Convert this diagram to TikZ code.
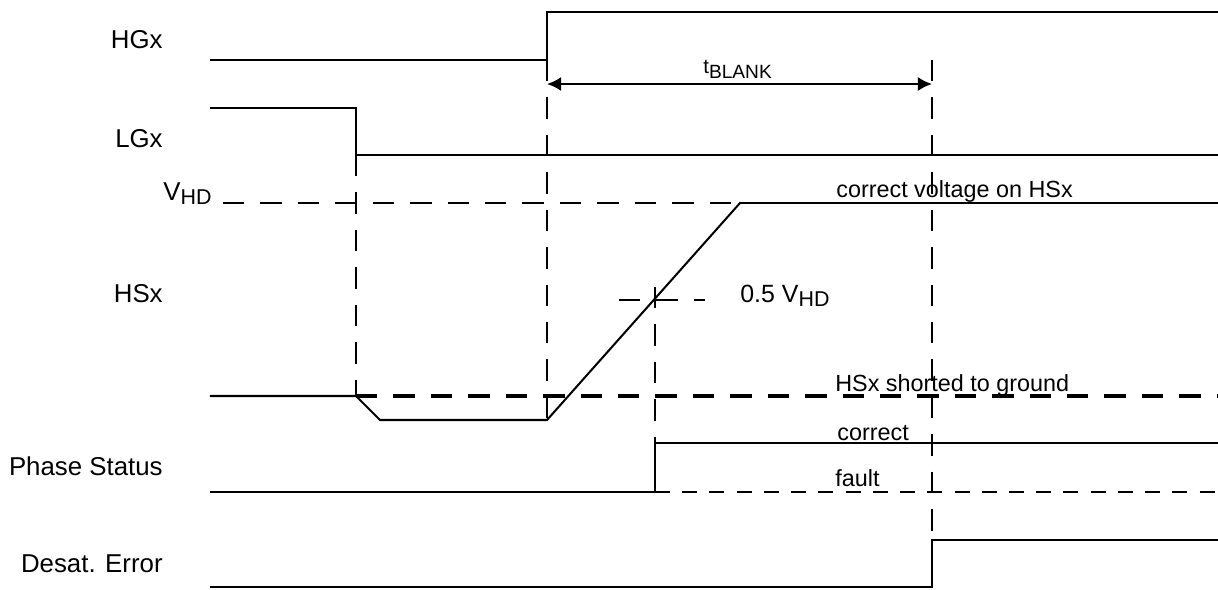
\documentclass[tikz,border=0pt]{standalone}
\usepackage{fontspec}
\setmainfont{Liberation Sans}
\usetikzlibrary{arrows.meta}
\newcommand\bigfont{\fontsize{14.7}{17}\selectfont}
\newcommand\notefont{\fontsize{13.3}{16}\selectfont}
\newcommand\halffont{\fontsize{14.2}{16}\selectfont}
\newcommand\subfont{\fontsize{12.2}{14}\selectfont}
\newcommand\lowered[2]{\raisebox{-#1}{#2}}
\begin{document}
\begin{tikzpicture}[x=0.02cm,y=-0.02cm,
  sig/.style={line width=1.15pt, line join=miter, line cap=rect},
  sighigh/.style={line width=1.5pt},
  guide/.style={line width=1.15pt, dash pattern=on 12.2pt off 9.1pt},
  guidethick/.style={line width=2.1pt, dash pattern=on 12.2pt off 9.1pt},
  faultline/.style={line width=1.15pt, dash pattern=on 8.5pt off 7pt},
  dimarrow/.style={line width=1.2pt, {Latex[length=8pt,width=8pt]}-{Latex[length=8pt,width=8pt]}},
  lbl/.style={font=\bigfont, anchor=base east, inner sep=0pt},
  note/.style={font=\notefont, anchor=base west, inner sep=0pt}]
\useasboundingbox (0,0) rectangle (1218,589);

% signal labels
\node[lbl] (hglbl) at (163,48) {HGx};
\node[lbl] (lglbl) at (163,147) {LGx};
\node[lbl] (vhdlbl) at (212,200) {V\lowered{2.8pt}{\subfont HD}};
\node[lbl] (hslbl) at (163,302) {HSx};
\node[lbl] (pslbl) at (163,475) {Phase Status};
\node[lbl] (delbl) at (163,572) {Desat. Error};

% key points
\coordinate (hgA) at (211,60);
\coordinate (hgB) at (547,60);
\coordinate (hgC) at (547,12);
\coordinate (hgD) at (1218,12);
\coordinate (lgA) at (211,108);
\coordinate (lgB) at (356,108);
\coordinate (lgC) at (356,155);
\coordinate (lgD) at (1218,155);
\coordinate (hsA) at (211,396);
\coordinate (hsB) at (356,396);
\coordinate (hsC) at (380,420);
\coordinate (hsD) at (547,420);
\coordinate (hsE) at (740,203);
\coordinate (hsF) at (1218,203);
\coordinate (gndR) at (1218,396);
\coordinate (vhdL) at (223,203);
\coordinate (halfL) at (619,300);
\coordinate (halfR) at (705,300);
\coordinate (psA) at (211,492);
\coordinate (psB) at (655,492);
\coordinate (psC) at (655,443);
\coordinate (psD) at (1218,443);
\coordinate (psF) at (1218,492);
\coordinate (deA) at (211,587);
\coordinate (deB) at (932,587);
\coordinate (deC) at (932,540);
\coordinate (deD) at (1218,540);
\coordinate (blankTop) at (932,60);
\coordinate (halfTop) at (655,287);
\coordinate (tbL) at (547,84);
\coordinate (tbR) at (932,84);

% guide lines
\draw[guide] (vhdL) -- (hsE);
\draw[guide] (halfL) -- (halfR);
\draw[guide] (lgC) -- (hsB);
\draw[guide] (hgB) -- (hsD);
\draw[guide] (halfTop) -- (psC);
\draw[guide] (blankTop) -- (deC);
\draw[guidethick] (hsB) -- (gndR);
\draw[faultline] (psB) -- (psF);

% waveforms
\draw[sig] (hgA) -- (hgB) -- (hgC) -- (hgD);
\draw[sig] (lgA) -- (lgB) -- (lgC) -- (lgD);
\draw[sig] (hsA) -- (hsB) -- (hsC) -- (hsD) -- (hsE);
\draw[sighigh] (hsE) -- (hsF);
\draw[sig] (psA) -- (psB) -- (psC) -- (psD);
\draw[sig] (deA) -- (deB) -- (deC) -- (deD);

% blanking time
\draw[dimarrow] (tbL) -- (tbR);
\node[anchor=base west, inner sep=0pt, font=\fontsize{11.6}{13}\selectfont] (tblank) at (703,73) {t\lowered{3.4pt}{\fontsize{10.9}{12}\selectfont BLANK}};

% notes
\node[note] (corrv) at (836,197) {correct voltage on HSx};
\node[anchor=base west, inner sep=0pt, font=\halffont] (halfv) at (740,302) {0.5 V\lowered{2.8pt}{\subfont HD}};
\node[note] (short) at (835,391) {HSx shorted to ground};
\node[note] (corr) at (837,440) {correct};
\node[note] (fault) at (835,486) {fault};
\end{tikzpicture}
\end{document}
